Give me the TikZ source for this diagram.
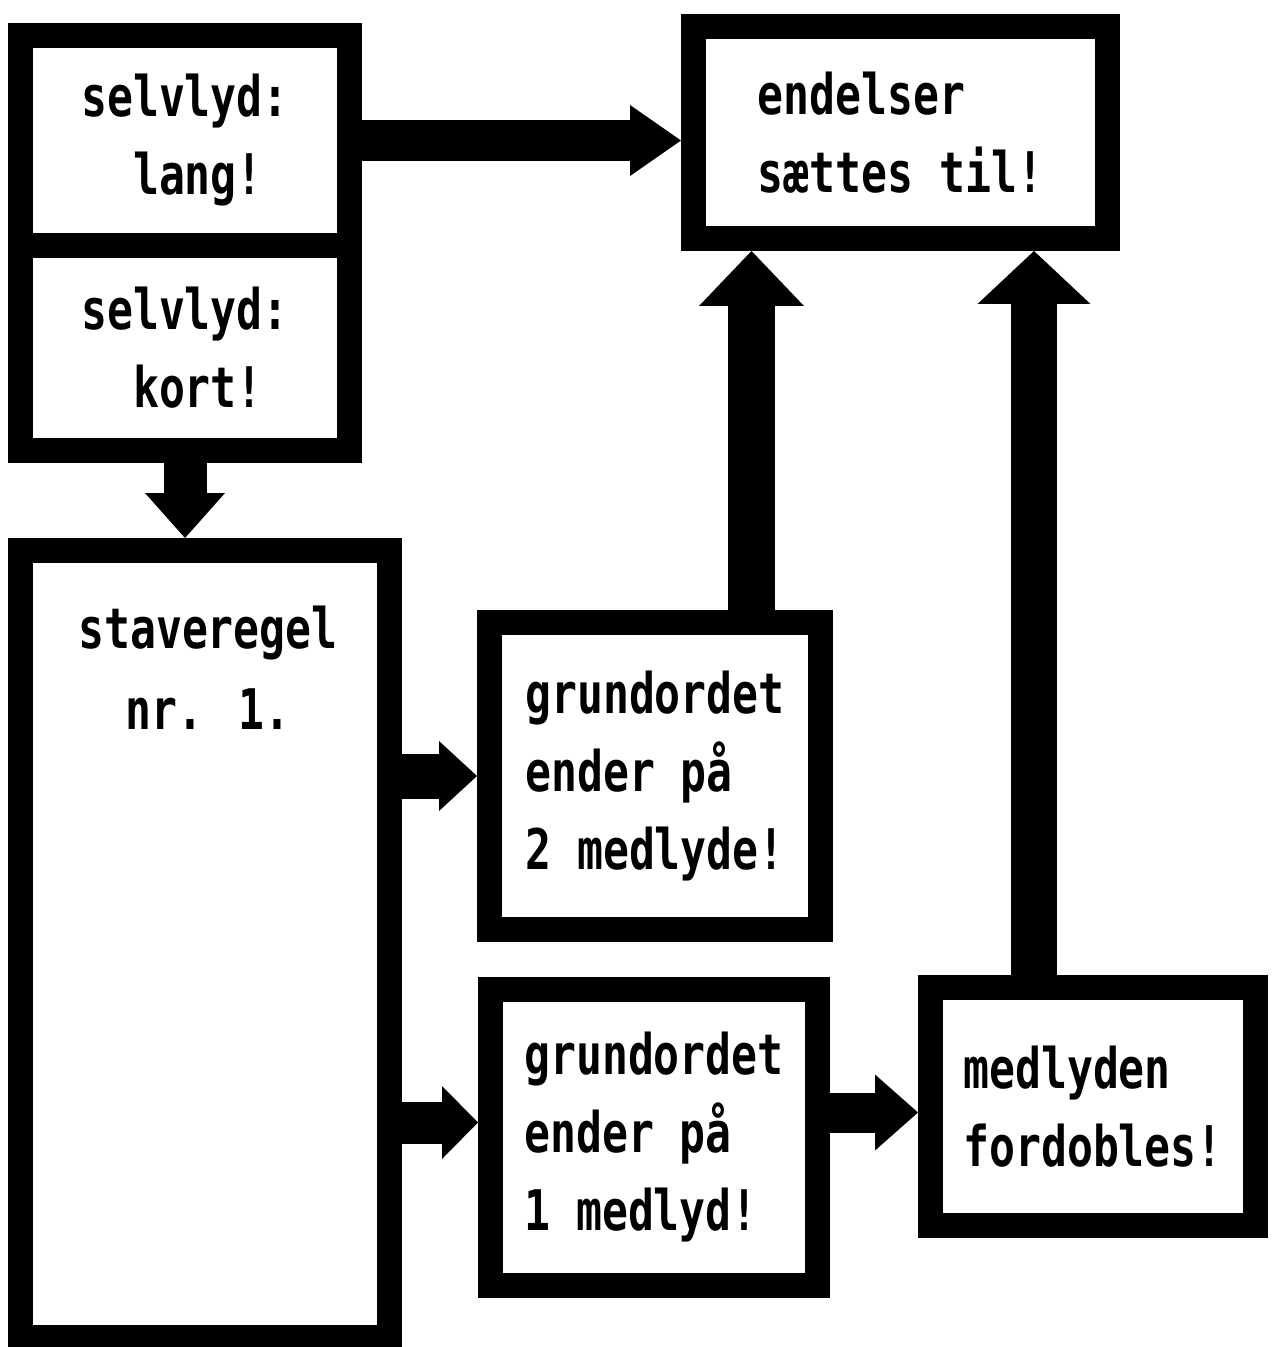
\documentclass[tikz,border=0pt]{standalone}
\usepackage{fontspec}
\newfontfamily\boxfont{DejaVu Sans Mono}[FakeStretch=0.77]
\usetikzlibrary{arrows.meta}
\tikzset{
  box/.style={draw, line width=12.5pt, inner sep=0pt, align=left,
    font=\boxfont\bfseries\fontsize{28pt}{39pt}\selectfont},
  boxtext/.style={inner sep=0pt, align=center,
    font=\boxfont\bfseries\fontsize{28pt}{40.5pt}\selectfont},
  fat/.style n args={3}{line width=#1,
    -{Triangle[width=#2,length=#3,line width=0pt]}},
}
\begin{document}
\begin{tikzpicture}[x=0.5pt,y=-0.5pt]
  \useasboundingbox (0,0) rectangle (1274,1347);
  % boxes
  \node[box, minimum width=164.5pt, minimum height=105pt] (lang) at (185,140.5) {selvlyd:\\\phantom{xx}lang!};
  \node[box, minimum width=164.5pt, minimum height=102.5pt] (kort) at (185,348) {selvlyd:\\\phantom{xx}kort!};
  \node[box, minimum width=207pt, minimum height=106pt] (endelser) at (900.5,132.5) {endelser\\sættes til!};
  \node[box, minimum width=184.5pt, minimum height=393.5pt] (stave) at (205,944) {};
  \node[boxtext, anchor=north] (staveTxt) at ([xshift=1.5pt,yshift=-34pt]stave.north) {staveregel\\nr. 1.};
  \node[box, minimum width=165.5pt, minimum height=153.5pt] (grund2) at (655,776) {grundordet\\ender på\\2 medlyde!};
  \node[box, minimum width=163.5pt, minimum height=148pt] (grund1) at (654,1137.5) {grundordet\\ender på\\1 medlyd!};
  \node[box, minimum width=162.5pt, minimum height=119pt] (medlyd) at (1093,1106.5) {medlyden\\fordobles!};
  % arrow ends
  \coordinate (in1) at ([yshift=7.5pt]grund1.west);
  \coordinate (in3) at ([yshift=-3pt]medlyd.west);
  \coordinate (up2) at ([xshift=48.25pt]grund2.north);
  \coordinate (up1) at ([xshift=-29.5pt]medlyd.north);
  % arrows
  \draw[fat={20.5pt}{35.5pt}{25.5pt}] (lang.east) -- (lang.east -| endelser.west);
  \draw[fat={21.5pt}{40pt}{22.5pt}] (kort.south) -- (kort.south |- stave.north);
  \draw[fat={22.5pt}{35pt}{19pt}] (stave.east |- grund2.west) -- (grund2.west);
  \draw[fat={21pt}{36.5pt}{18pt}] (stave.east |- in1) -- (in1);
  \draw[fat={20pt}{38pt}{21.5pt}] (grund1.east |- in3) -- (in3);
  \draw[fat={23.5pt}{52.5pt}{27.5pt}] (up2) -- (up2 |- endelser.south);
  \draw[fat={23pt}{56.5pt}{26.5pt}] (up1) -- (up1 |- endelser.south);
\end{tikzpicture}
\end{document}
